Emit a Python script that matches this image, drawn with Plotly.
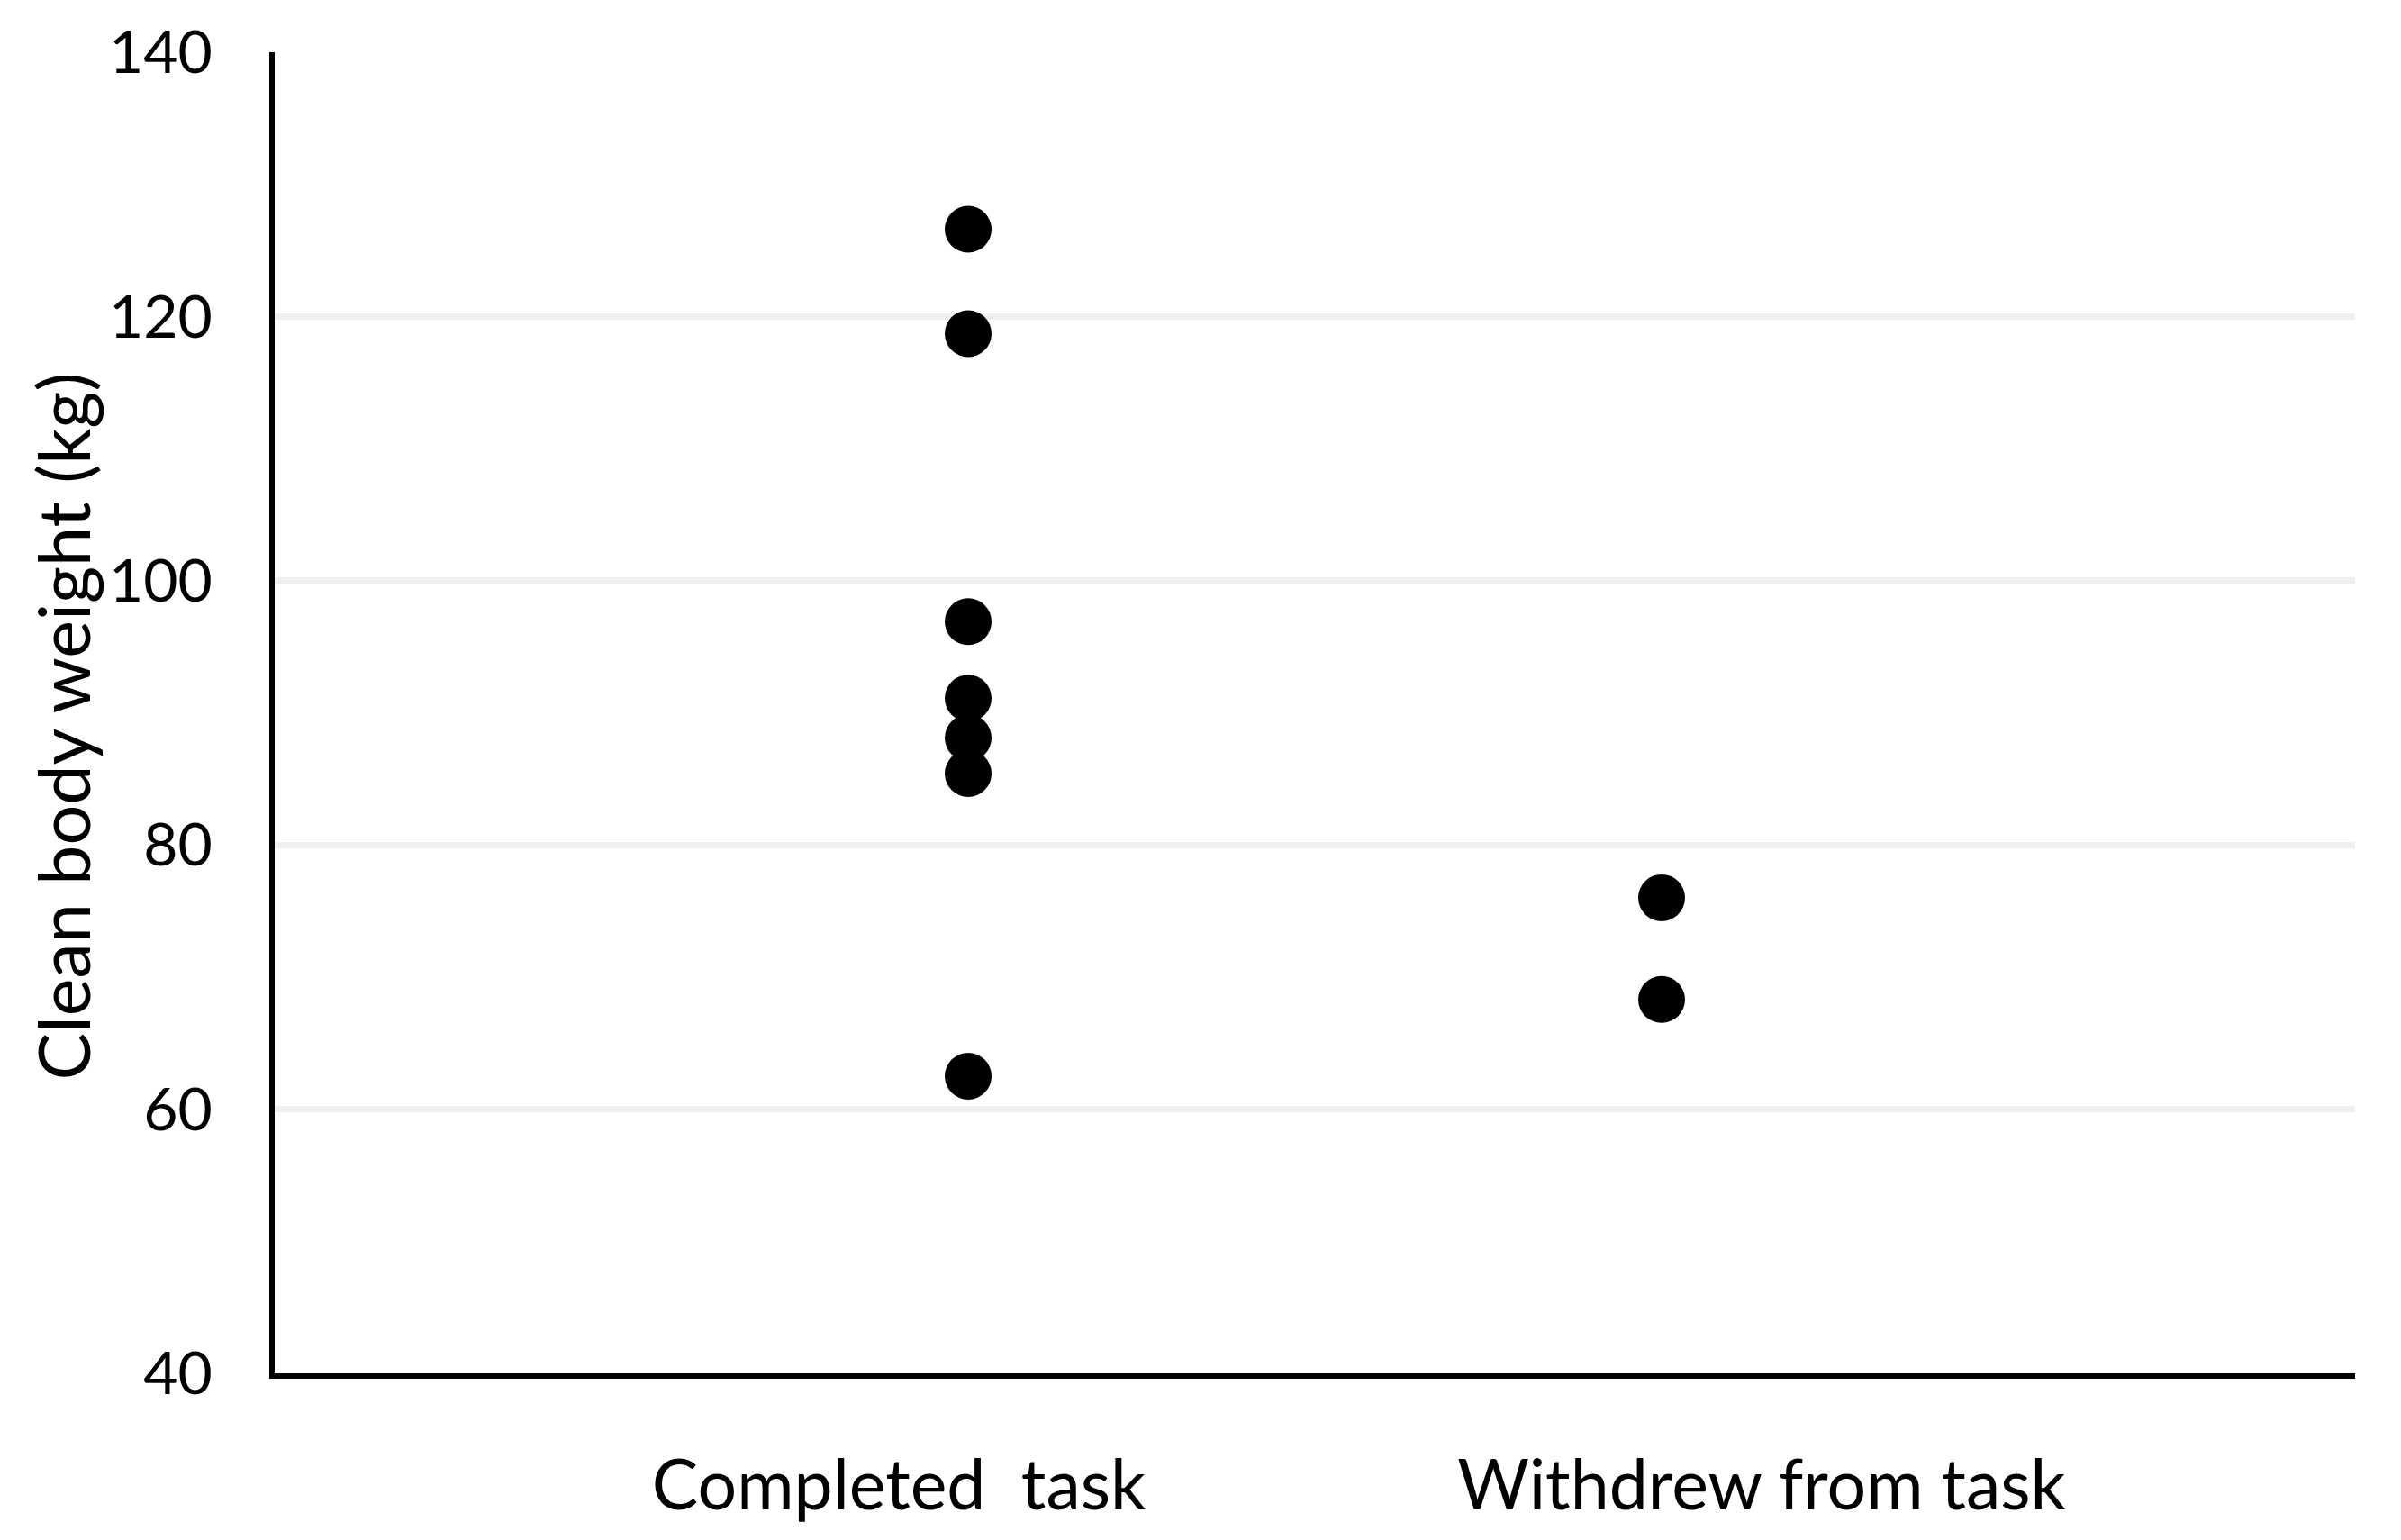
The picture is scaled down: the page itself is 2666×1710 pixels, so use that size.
import plotly.graph_objects as go

# ---- data ----
categories = ["Completed  task", "Withdrew from task"]
completed_x = [1, 1, 1, 1, 1, 1, 1]
completed_y = [126.6, 118.7, 96.9, 91.1, 88.1, 85.4, 62.5]
withdrew_x = [2, 2]
withdrew_y = [76.0, 68.3]
y_ticks = [40, 60, 80, 100, 120, 140]

FONT = "Lato"

fig = go.Figure()
fig.add_trace(go.Scatter(x=completed_x, y=completed_y, mode="markers",
                         marker=dict(size=52, color="black"),
                         name=categories[0], showlegend=False))
fig.add_trace(go.Scatter(x=withdrew_x, y=withdrew_y, mode="markers",
                         marker=dict(size=52, color="black"),
                         name=categories[1], showlegend=False))

fig.update_layout(
    width=2666, height=1710,
    margin=dict(l=297, r=59, t=50, b=193),
    paper_bgcolor="white", plot_bgcolor="white",
    font=dict(family=FONT, color="black"),
    xaxis=dict(range=[0, 3], showgrid=False, zeroline=False, automargin=False,
               showline=True, linecolor="black", linewidth=6,
               tickvals=[0.90, 2.144], ticktext=categories,
               tickfont=dict(size=77, family=FONT), ticks="",
               ticklabelstandoff=53),
    yaxis=dict(range=[40, 140], tickvals=y_ticks, showgrid=True, automargin=False,
               gridcolor="#efefef", gridwidth=7, zeroline=False,
               showline=True, linecolor="black", linewidth=6,
               tickfont=dict(size=66, family=FONT), ticks="",
               ticklabelstandoff=50),
    annotations=[dict(text="Clean body weight (kg)", xref="paper", yref="paper",
                      x=-0.102, y=0.49, xanchor="center", yanchor="middle",
                      textangle=-90, showarrow=False,
                      font=dict(size=79, family=FONT, color="black"))],
)

fig.write_html("out.html")
